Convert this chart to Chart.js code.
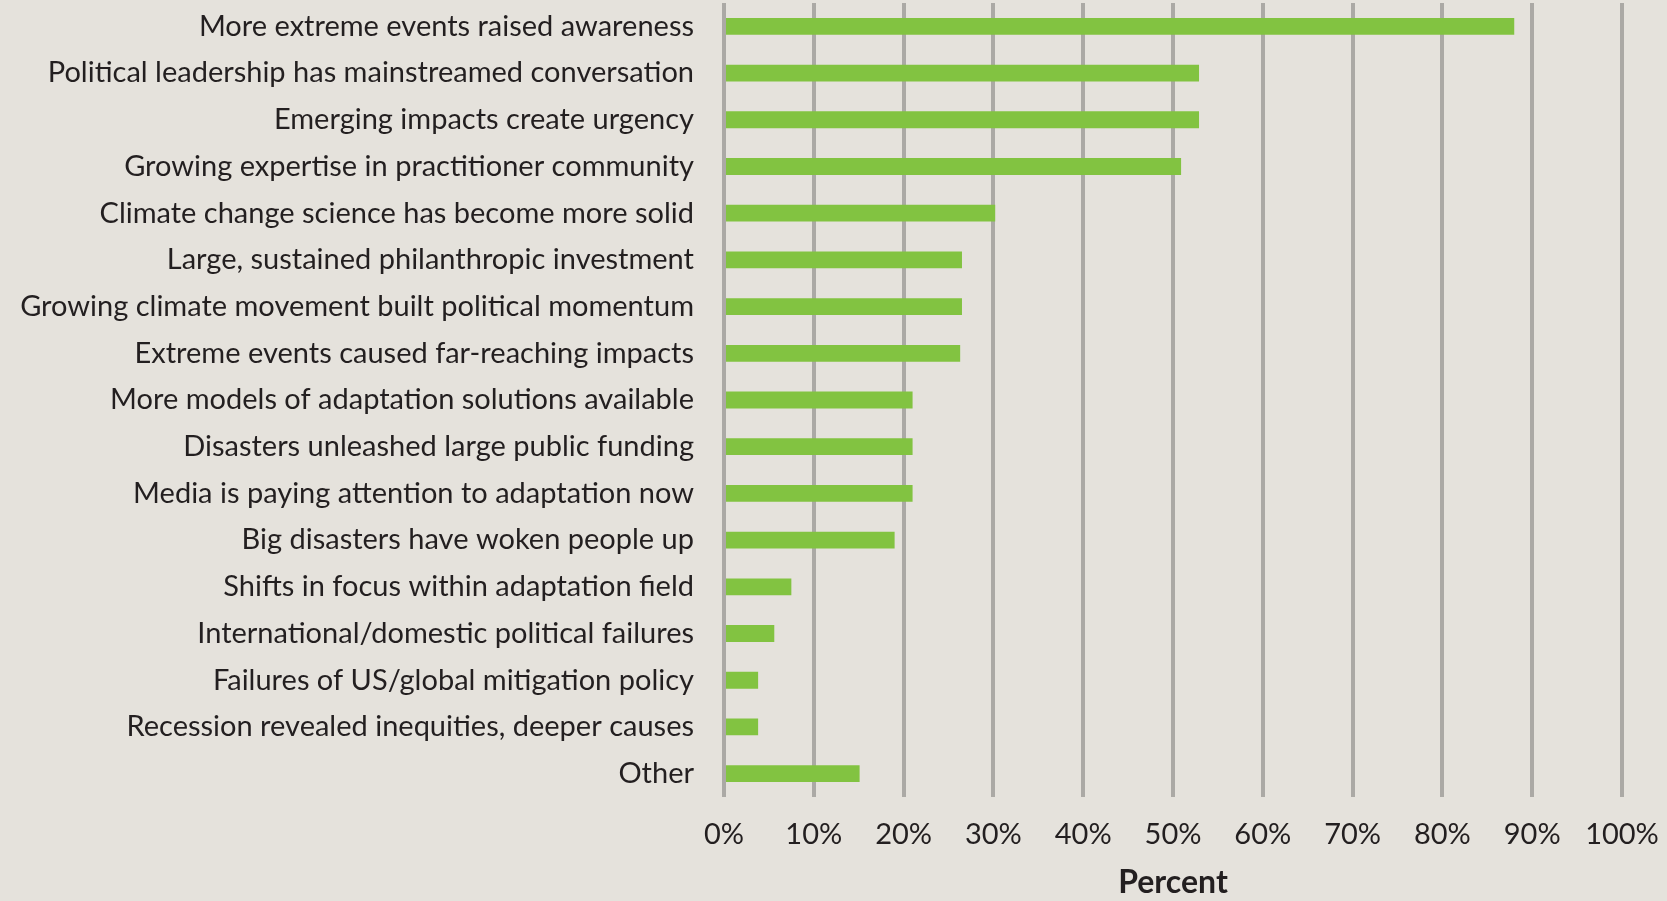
<!DOCTYPE html>
<html>
<head>
<meta charset="utf-8">
<script src="https://cdn.jsdelivr.net/npm/chart.js@4.4.1/dist/chart.umd.min.js"></script>
<style>
  html, body { margin: 0; padding: 0; background: #E5E2DC; }
  #wrap { width: 1667px; height: 901px; position: relative; }
</style>
</head>
<body>
<div id="wrap"><canvas id="c" width="1667" height="901"></canvas></div>
<script>
const categories = [
  "More extreme events raised awareness",
  "Political leadership has mainstreamed conversation",
  "Emerging impacts create urgency",
  "Growing expertise in practitioner community",
  "Climate change science has become more solid",
  "Large, sustained philanthropic investment",
  "Growing climate movement built political momentum",
  "Extreme events caused far-reaching impacts",
  "More models of adaptation solutions available",
  "Disasters unleashed large public funding",
  "Media is paying attention to adaptation now",
  "Big disasters have woken people up",
  "Shifts in focus within adaptation field",
  "International/domestic political failures",
  "Failures of US/global mitigation policy",
  "Recession revealed inequities, deeper causes",
  "Other"
];
const percentValues = [88.0, 52.9, 52.9, 50.9, 30.2, 26.5, 26.5, 26.3, 21.0, 21.0, 21.0, 19.0, 7.5, 5.6, 3.8, 3.8, 15.1];
const tickValues = [0, 10, 20, 30, 40, 50, 60, 70, 80, 90, 100];
const axisTitle = "Percent";

const FONT = "Lato, 'Open Sans', sans-serif";
const TEXT = "#231F20";

new Chart(document.getElementById('c'), {
  type: 'bar',
  data: {
    labels: categories,
    datasets: [{
      data: percentValues,
      backgroundColor: '#82C341',
      borderWidth: 0,
      categoryPercentage: 1.0,
      barPercentage: 0.36
    }]
  },
  options: {
    indexAxis: 'y',
    responsive: false,
    animation: false,
    devicePixelRatio: 1,
    layout: { padding: { top: 3, right: 45, bottom: 0, left: 0 } },
    plugins: { legend: { display: false }, tooltip: { enabled: false } },
    scales: {
      x: {
        min: 0, max: 100,
        afterBuildTicks: (s) => { s.ticks = tickValues.map(v => ({ value: v })); },
        afterFit: (s) => { s.height = 104; s.paddingLeft = 0; s.paddingRight = 0; },
        grid: { color: '#ABA9A5', lineWidth: 4, drawTicks: false },
        border: { display: false },
        ticks: {
          padding: 20,
          color: TEXT,
          font: { family: FONT, size: 29 },
          callback: (v) => v + '%',
          maxRotation: 0, autoSkip: false
        },
        title: {
          display: true, text: axisTitle, color: TEXT,
          font: { family: FONT, size: 32, weight: 'bold', lineHeight: 1 },
          padding: { top: 0, bottom: 2 }
        }
      },
      y: {
        afterFit: (s) => { s.width = 724; s.paddingTop = 0; s.paddingBottom = 0; },
        grid: { display: false, drawTicks: false },
        border: { display: false },
        ticks: {
          padding: 30,
          color: TEXT,
          font: { family: FONT, size: 29 },
          autoSkip: false
        }
      }
    }
  }
});
</script>
</body>
</html>
